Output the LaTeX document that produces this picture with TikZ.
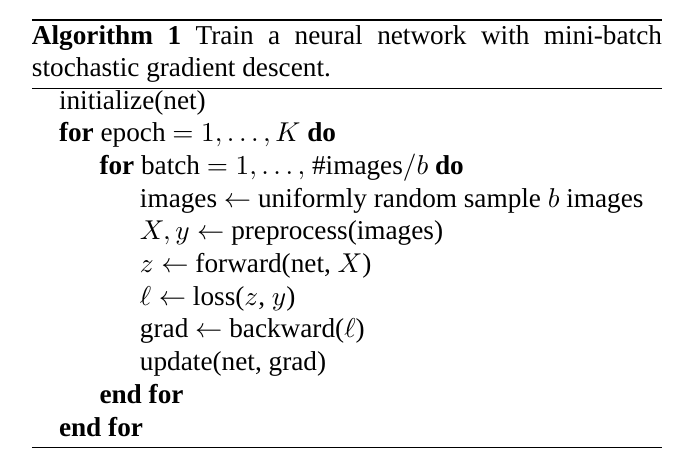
\documentclass[tikz,border=0pt]{standalone}
\usepackage[no-math]{fontspec}
\setmainfont{Liberation Serif}
\begin{document}
\begin{tikzpicture}[x=0.367pt,y=-0.367pt,
  algline/.style={anchor=base west,inner sep=0pt,outer sep=0pt,font=\fontsize{10}{12}\selectfont},
  heavyrule/.style={line width=0.8pt},
  lightrule/.style={line width=0.4pt}]
\useasboundingbox (0,0) rectangle (674,470);
% rules
\coordinate (r1a) at (32,20);    \coordinate (r1b) at (662,20);
\coordinate (r2a) at (32,88.3);  \coordinate (r2b) at (662,88.3);
\coordinate (r3a) at (32,447.7); \coordinate (r3b) at (662,447.7);
\draw[heavyrule] (r1a) -- (r1b);
\draw[lightrule] (r2a) -- (r2b);
\draw[lightrule] (r3a) -- (r3b);
% caption
\node[algline] (cap1) at (32,44) {\makebox[231.2pt][s]{\textbf{Algorithm 1} Train a neural network with mini-batch}};
\node[algline] (cap2) at (32,76) {stochastic gradient descent.};
% body
\node[algline] (l1) at (59,109) {initialize(net)};
\node[algline] (l2) at (59,141.7) {\textbf{for} epoch $= 1, \ldots, K$ \textbf{do}};
\node[algline] (l3) at (99.5,174.4) {\textbf{for} batch $= 1, \ldots,$ \#images$/b$ \textbf{do}};
\node[algline] (l4) at (140,207.1) {images $\leftarrow$ uniformly random sample $b$ images};
\node[algline] (l5) at (140,239.8) {$X, y \leftarrow$ preprocess(images)};
\node[algline] (l6) at (140,272.5) {$z \leftarrow$ forward(net, $X$)};
\node[algline] (l7) at (140,305.2) {$\ell \leftarrow$ loss($z$, $y$)};
\node[algline] (l8) at (140,337.9) {grad $\leftarrow$ backward($\ell$)};
\node[algline] (l9) at (140,370.6) {update(net, grad)};
\node[algline] (l10) at (99.5,403.3) {\textbf{end for}};
\node[algline] (l11) at (59,436) {\textbf{end for}};
\end{tikzpicture}
\end{document}
